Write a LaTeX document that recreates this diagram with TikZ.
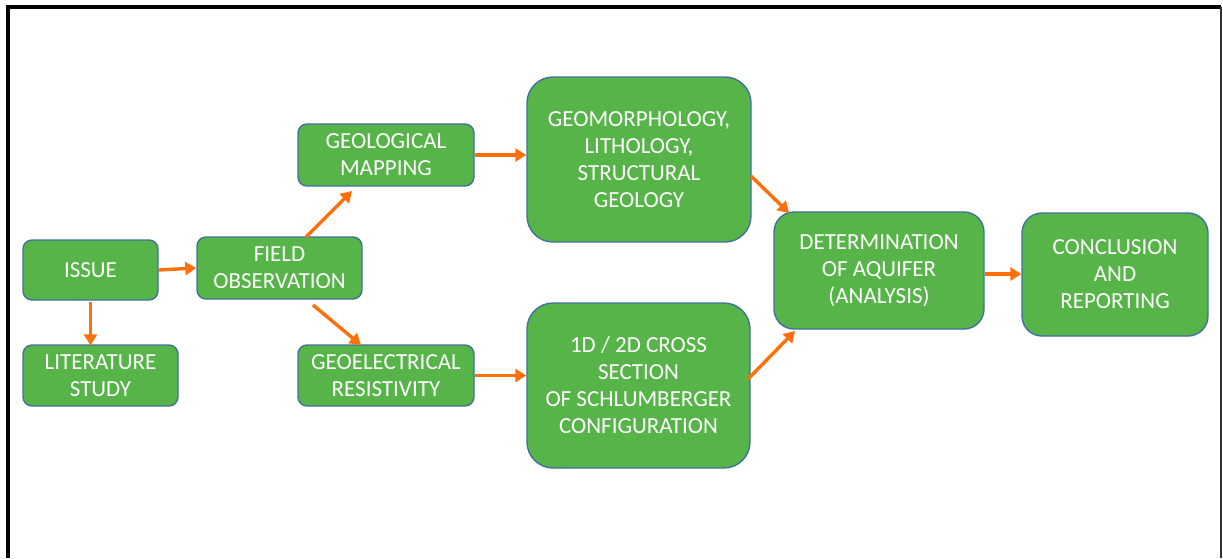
\documentclass[tikz,border=0pt]{standalone}
\usepackage{fontspec}
\setmainfont{Carlito}
\usetikzlibrary{arrows.meta}
\definecolor{boxgreen}{RGB}{86,180,72}
\definecolor{boxblue}{RGB}{65,113,156}
\definecolor{arrorange}{RGB}{255,112,10}
\tikzset{
  flowbox/.style={draw=boxblue, line width=1.4pt, fill=boxgreen, text=white,
    align=center, inner sep=0pt, font=\fontsize{23}{27}\selectfont},
  flowarrow/.style={draw=arrorange, line width=3.4pt,
    -{Triangle[length=11pt,width=13pt]}, shorten >=0pt}
}
\begin{document}
\begin{tikzpicture}[x=1pt,y=-1pt]
\useasboundingbox (0,0) rectangle (1223,558);
\fill[white] (0,0) rectangle (1223,558);
\draw[line width=4pt, black] (8,558) -- (8,7) -- (1221,7);
\draw[line width=2pt, black!80] (1221,7) -- (1221,558);

\node[flowbox, rounded corners=9pt, minimum width=135pt, minimum height=60pt] (issue) at (90.5,270) {ISSUE};
\node[flowbox, rounded corners=9pt, minimum width=155pt, minimum height=61pt] (lit) at (100.5,375.5) {LITERATURE\\STUDY};
\node[flowbox, rounded corners=9pt, minimum width=165pt, minimum height=62pt] (field) at (279.5,268) {FIELD\\OBSERVATION};
\node[flowbox, rounded corners=9pt, minimum width=176pt, minimum height=62pt] (geomap) at (386,155) {GEOLOGICAL\\MAPPING};
\node[flowbox, rounded corners=9pt, minimum width=176pt, minimum height=61pt] (geoel) at (386,375.5) {GEOELECTRICAL\\RESISTIVITY};
\node[flowbox, rounded corners=26pt, minimum width=224pt, minimum height=165pt] (geomorph) at (639,159.5) {GEOMORPHOLOGY,\\LITHOLOGY,\\STRUCTURAL\\GEOLOGY};
\node[flowbox, rounded corners=26pt, minimum width=223pt, minimum height=165pt] (cross) at (638.5,385.5) {1D / 2D CROSS\\SECTION\\OF SCHLUMBERGER\\CONFIGURATION};
\node[flowbox, rounded corners=20pt, minimum width=210pt, minimum height=117pt] (det) at (879,270.5) {DETERMINATION\\OF AQUIFER\\(ANALYSIS)};
\node[flowbox, rounded corners=20pt, minimum width=186pt, minimum height=123pt] (concl) at (1115,274.5) {CONCLUSION\\AND\\REPORTING};

\coordinate (a1s) at (159,270); \coordinate (a1e) at (197,268);
\draw[flowarrow] (issue.east |- a1s) -- (field.west |- a1e);
\draw[flowarrow] (issue.south) ++(0,1) -- ([yshift=-1pt]lit.north -| issue.south);
\coordinate (a3s) at (306,237); \coordinate (a3e) at (352,191);
\draw[flowarrow] (a3s) -- (a3e);
\coordinate (a4s) at (313,305); \coordinate (a4e) at (361,345);
\draw[flowarrow] (a4s) -- (a4e);
\draw[flowarrow] (geomap.east) -- (geomorph.west |- geomap.east);
\draw[flowarrow] (geoel.east) -- (cross.west |- geoel.east);
\coordinate (a7s) at (751,176); \coordinate (a7e) at (789,213);
\draw[flowarrow] (a7s) -- (a7e);
\coordinate (a8s) at (748,379); \coordinate (a8e) at (795,331);
\draw[flowarrow] (a8s) -- (a8e);
\draw[flowarrow] (det.east |- 0,274) -- (concl.west |- 0,274);
\end{tikzpicture}
\end{document}
